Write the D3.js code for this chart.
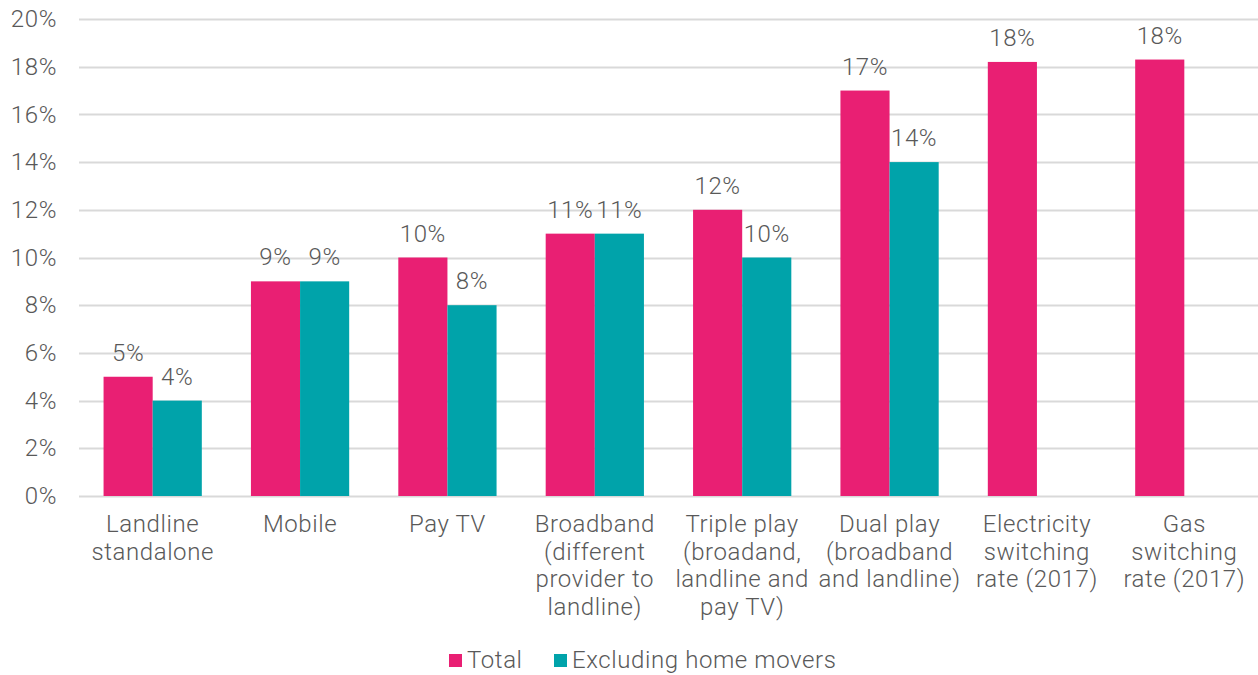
<!DOCTYPE html>
<html>
<head>
<meta charset="utf-8">
<script src="https://cdn.jsdelivr.net/npm/d3@7"></script>
<style>
  html, body { margin: 0; padding: 0; background: #fff; }
  svg { display: block; font-family: Roboto, "Noto Sans", sans-serif; font-weight: 300; letter-spacing: 0.6px; }
</style>
</head>
<body>
<svg id="chart" width="1258" height="675"></svg>
<script>
// Switching rates by service
const categories = [
  ["Landline", "standalone"],
  ["Mobile"],
  ["Pay TV"],
  ["Broadband", "(different", "provider to", "landline)"],
  ["Triple play", "(broadand,", "landline and", "pay TV)"],
  ["Dual play", "(broadband", "and landline)"],
  ["Electricity", "switching", "rate (2017)"],
  ["Gas", "switching", "rate (2017)"]
];
const totalValues = [5, 9, 10, 11, 12, 17, 18.2, 18.3];
const excludingMoversValues = [4, 9, 8, 11, 10, 14, null, null];
const seriesNames = ["Total", "Excluding home movers"];
const seriesColors = ["#E91F73", "#00A3AA"];
const yTicks = [0, 2, 4, 6, 8, 10, 12, 14, 16, 18, 20];

const svg = d3.select("#chart");
const margin = { left: 79, right: 0, top: 19, bottom: 179 };
const W = 1258, H = 675;
const textColor = "#595959";
const fontSize = 24;

const x = d3.scaleBand()
  .domain(d3.range(categories.length))
  .range([margin.left, W - margin.right])
  .padding(0);
const y = d3.scaleLinear().domain([0, 20]).range([H - margin.bottom, margin.top]);

const barW = x.bandwidth() / 3;

// gridlines
svg.append("g")
  .selectAll("line")
  .data(yTicks)
  .join("line")
  .attr("x1", margin.left)
  .attr("x2", W - margin.right)
  .attr("y1", d => Math.round(y(d)) + 0.5)
  .attr("y2", d => Math.round(y(d)) + 0.5)
  .attr("stroke", "#D9D9D9")
  .attr("stroke-width", 2);

// y axis labels
const yAxis = d3.axisLeft(y).tickValues(yTicks).tickFormat(d => d + "%").tickSize(0).tickPadding(22);
const yg = svg.append("g").attr("transform", `translate(${margin.left},0)`).call(yAxis);
yg.select(".domain").remove();
yg.selectAll("text")
  .attr("fill", textColor)
  .style("font-size", fontSize + "px")
  .style("font-family", "Roboto, sans-serif")
  .style("font-weight", 300);

// bars
const series = [totalValues, excludingMoversValues];
const fmt = v => d3.format(".0f")(v) + "%";

series.forEach((vals, si) => {
  const g = svg.append("g");
  const data = vals.map((v, i) => ({ v, i })).filter(d => d.v != null);
  g.selectAll("rect")
    .data(data)
    .join("rect")
    .attr("x", d => x(d.i) + barW / 2 + si * barW)
    .attr("width", barW)
    .attr("y", d => y(d.v))
    .attr("height", d => y(0) - y(d.v))
    .attr("fill", seriesColors[si]);
  g.selectAll("text")
    .data(data)
    .join("text")
    .attr("x", d => x(d.i) + barW / 2 + si * barW + barW / 2)
    .attr("y", d => y(d.v) - 16)
    .attr("text-anchor", "middle")
    .attr("fill", textColor)
    .style("font-size", fontSize + "px")
    .text(d => fmt(d.v));
});

// category labels
const cg = svg.append("g");
categories.forEach((lines, i) => {
  const t = cg.append("text")
    .attr("x", x(i) + x.bandwidth() / 2)
    .attr("y", 532)
    .attr("text-anchor", "middle")
    .attr("fill", textColor)
    .style("font-size", fontSize + "px");
  lines.forEach((ln, k) => {
    t.append("tspan")
      .attr("x", x(i) + x.bandwidth() / 2)
      .attr("dy", k === 0 ? 0 : 27.5)
      .text(ln);
  });
});

// legend
const legendItems = [
  { name: seriesNames[0], color: seriesColors[0], x: 449 },
  { name: seriesNames[1], color: seriesColors[1], x: 554 }
];
const lg = svg.append("g");
legendItems.forEach(it => {
  lg.append("rect")
    .attr("x", it.x).attr("y", 654)
    .attr("width", 13).attr("height", 13)
    .attr("fill", it.color);
  lg.append("text")
    .attr("x", it.x + 18).attr("y", 668)
    .attr("fill", textColor)
    .style("font-size", fontSize + "px")
    .text(it.name);
});
</script>
</body>
</html>
